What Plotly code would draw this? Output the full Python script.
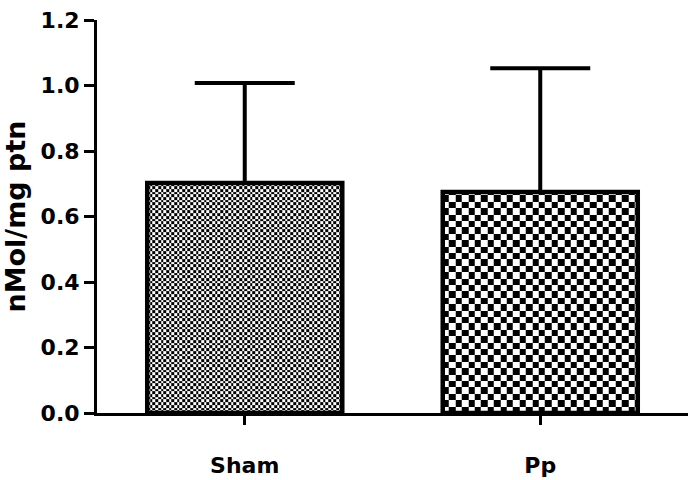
import math
import plotly.graph_objects as go

# ---- data ----
groups = ["Sham", "Pp"]
means = [0.702, 0.675]
err_up = [0.306, 0.378]

# ---- style / layout ----
W, H = 694, 480
ML, MR, MT, MB = 97, 6, 20, 67
XR = [-0.5, 1.5]
YR = [0, 1.2]
BAR_W = 0.66
cell_px = [2.7, 6.4]  # checker cell size in pixels per bar

plot_w = W - ML - MR
plot_h = H - MT - MB
px_x = plot_w / (XR[1] - XR[0])
px_y = plot_h / (YR[1] - YR[0])

FONT = "DejaVu Sans, sans-serif"

fig = go.Figure()

xs = list(range(len(groups)))
for i, (xc, m) in enumerate(zip(xs, means)):
    cx = cell_px[i] / px_x
    cy = cell_px[i] / px_y
    x0, x1 = xc - BAR_W / 2, xc + BAR_W / 2
    ncol = math.ceil((x1 - x0) / cx)
    nrow = math.ceil(m / cy)
    xe = [min(x0 + k * cx, x1) for k in range(ncol + 1)]
    ye = [min(k * cy, m) for k in range(nrow + 1)]
    z = [[(r + c) % 2 for c in range(ncol)] for r in range(nrow)]
    fig.add_trace(go.Heatmap(
        x=xe, y=ye, z=z, zmin=0, zmax=1,
        colorscale=[[0, "white"], [1, "black"]],
        showscale=False, zsmooth=False, hoverinfo="skip",
    ))

fig.add_trace(go.Bar(
    x=xs, y=means, width=BAR_W,
    marker=dict(color="rgba(0,0,0,0)", line=dict(color="black", width=4.5)),
    error_y=dict(type="data", array=err_up, arrayminus=[0] * len(err_up),
                 symmetric=False, color="black", thickness=4, width=50),
    showlegend=False,
))

fig.update_layout(
    width=W, height=H,
    margin=dict(l=ML, r=MR, t=MT, b=MB),
    paper_bgcolor="white", plot_bgcolor="white",
    font=dict(family=FONT, color="black"),
    showlegend=False,
    xaxis=dict(
        range=XR, tickmode="array", tickvals=xs, ticktext=groups,
        showline=True, linewidth=3, linecolor="black",
        ticks="outside", ticklen=9, tickwidth=3, tickcolor="black",
        showgrid=False, zeroline=False, automargin=False,
        tickfont=dict(family=FONT, size=22, weight="bold"),
        ticklabelstandoff=22,
    ),
    yaxis=dict(
        range=YR, tick0=0, dtick=0.2, tickformat=".1f",
        showline=True, linewidth=3, linecolor="black",
        ticks="outside", ticklen=10, tickwidth=3, tickcolor="black",
        showgrid=False, zeroline=False, automargin=False,
        tickfont=dict(family=FONT, size=22, weight="bold"),
        ticklabelstandoff=0,
        title=dict(text="nMol/mg ptn", font=dict(family=FONT, size=27, weight="bold"), standoff=14),
    ),
)

fig.write_html("out.html")
